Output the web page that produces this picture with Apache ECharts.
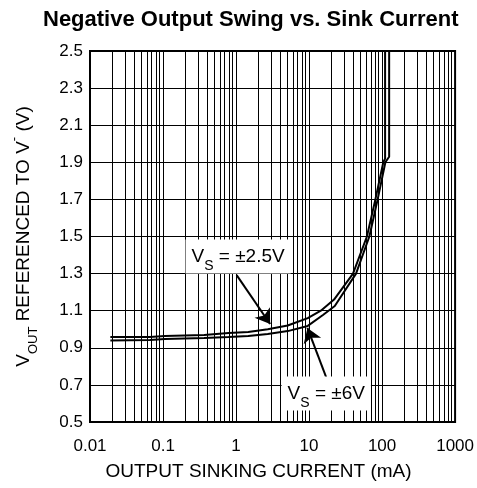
<!DOCTYPE html>
<html><head><meta charset="utf-8">
<script src="https://cdn.jsdelivr.net/npm/echarts@6/dist/echarts.min.js"></script>
<style>html,body{margin:0;padding:0;background:#fff}#c{width:477px;height:488px}</style>
</head><body><div id="c"></div>
<script>
// ---- data ----
const titleText = 'Negative Output Swing vs. Sink Current';
const xTickLabels = ['0.01', '0.1', '1', '10', '100', '1000'];
const yTickLabels = ['0.5', '0.7', '0.9', '1.1', '1.3', '1.5', '1.7', '1.9', '2.1', '2.3', '2.5'];

// VS = ±2.5V (upper curve)
const currentA = [0.019, 0.066, 0.106, 0.366, 0.79, 1.47, 2.72, 5.1, 9.6, 14.5, 22, 40, 62, 81, 104, 110, 110];
const voutA    = [0.958, 0.958, 0.964, 0.969, 0.98, 0.985, 1.0, 1.02, 1.06, 1.1, 1.16, 1.3, 1.5, 1.7, 1.9, 1.92, 2.5];
// VS = ±6V (lower curve)
const currentB = [0.019, 0.066, 0.106, 0.366, 0.79, 1.47, 2.72, 5.1, 9.6, 15.5, 22.5, 44, 67, 87, 111, 125, 125];
const voutB    = [0.94, 0.942, 0.947, 0.953, 0.958, 0.964, 0.975, 0.99, 1.018, 1.077, 1.125, 1.3, 1.5, 1.7, 1.9, 1.93, 2.5];

// annotations (data coordinates)
const labelA = [1.067, 1.392];
const arrowA = [[1.02, 1.292], [2.93, 1.028]];
const labelB = [17.2, 0.654];
const arrowB = [[18.8, 0.70], [9.5, 1.007]];

// ---- chart ----
const xGrid = [];
for (let d = -2; d <= 2; d++) {
  for (let k = 1; k <= 9; k++) xGrid.push(+(k * Math.pow(10, d)).toPrecision(6));
}
xGrid.push(1000);
const yGrid = yTickLabels.map(Number);

const FONT = 'Liberation Sans, Arial, sans-serif';
const pairs = (xs, ys) => xs.map((x, i) => [x, ys[i]]);

function annot(text, coord, arrow) {
  return {
    markPoint: {
      silent: true, symbol: 'circle', symbolSize: 1,
      itemStyle: { color: 'rgba(0,0,0,0)' },
      data: [{ coord: coord }],
      label: {
        show: true, position: 'inside',
        formatter: '{m|V}{s|S}{m| = ' + text + '}',
        backgroundColor: '#fff', padding: [0, 6, 0, 6],
        rich: {
          m: { fontSize: 19, fontFamily: FONT, color: '#000', lineHeight: 34, verticalAlign: 'middle' },
          s: { fontSize: 14, fontFamily: FONT, color: '#000', lineHeight: 18, verticalAlign: 'bottom' }
        }
      }
    },
    markLine: {
      silent: true, symbol: ['none', 'arrow'], symbolSize: 14,
      label: { show: false },
      itemStyle: { color: '#000' },
      lineStyle: { color: '#000', width: 2, type: 'solid' },
      data: [[{ coord: arrow[0] }, { coord: arrow[1] }]]
    }
  };
}

const chart = echarts.init(document.getElementById('c'), null, { renderer: 'canvas' });
chart.setOption({
  animation: false,
  backgroundColor: '#fff',
  title: {
    text: titleText, left: 38, top: 4,
    textStyle: { fontFamily: FONT, fontWeight: 'bold', fontSize: 22, color: '#000' }
  },
  grid: { left: 89, right: 17, top: 51, bottom: 66, show: true, borderColor: '#000', borderWidth: 2, backgroundColor: 'transparent' },
  xAxis: {
    type: 'log', logBase: 10, min: 0.01, max: 1000,
    name: 'OUTPUT SINKING CURRENT (mA)', nameLocation: 'middle', nameGap: 40,
    nameTextStyle: { fontFamily: FONT, fontSize: 19, color: '#000', padding: [0, 28, 0, 0] },
    axisLine: { show: false }, axisTick: { show: false }, splitLine: { show: false },
    axisLabel: {
      fontFamily: FONT, fontSize: 17, color: '#000', margin: 16,
      formatter: v => xTickLabels[Math.round(Math.log10(v)) + 2] || ''
    }
  },
  yAxis: {
    type: 'value', min: 0.5, max: 2.5, interval: 0.1,
    name: '{m|V}{sub|OUT}{m| REFERENCED TO V}{sup|-}{m| (V)}',
    nameLocation: 'middle', nameGap: 50,
    nameTextStyle: {
      rich: {
        m: { fontSize: 19, fontFamily: FONT, color: '#000', lineHeight: 32, verticalAlign: 'middle' },
        sub: { fontSize: 13, fontFamily: FONT, color: '#000', lineHeight: 18, verticalAlign: 'bottom' },
        sup: { fontSize: 13, fontFamily: FONT, color: '#000', lineHeight: 16, verticalAlign: 'top' }
      }
    },
    axisLine: { show: false }, axisTick: { show: false }, splitLine: { show: false },
    axisLabel: {
      fontFamily: FONT, fontSize: 17, color: '#000', margin: 7,
      formatter: v => {
        const s = v.toFixed(1);
        return yTickLabels.indexOf(s) >= 0 ? s : '';
      }
    }
  },
  series: [
    {
      type: 'line', data: [], z: 1, silent: true,
      markLine: {
        silent: true, symbol: 'none', label: { show: false }, animation: false,
        lineStyle: { color: '#000', width: 1, type: 'solid' },
        data: xGrid.map(v => ({ xAxis: v })).concat(yGrid.map(v => ({ yAxis: v })))
      }
    },
    Object.assign({
      name: 'VS = ±2.5V', type: 'line', data: pairs(currentA, voutA), z: 3,
      showSymbol: false, symbol: 'none', lineStyle: { color: '#000', width: 2 }
    }, annot('±2.5V', labelA, arrowA)),
    Object.assign({
      name: 'VS = ±6V', type: 'line', data: pairs(currentB, voutB), z: 3,
      showSymbol: false, symbol: 'none', lineStyle: { color: '#000', width: 2 }
    }, annot('±6V', labelB, arrowB))
  ]
});
</script>
</body></html>
